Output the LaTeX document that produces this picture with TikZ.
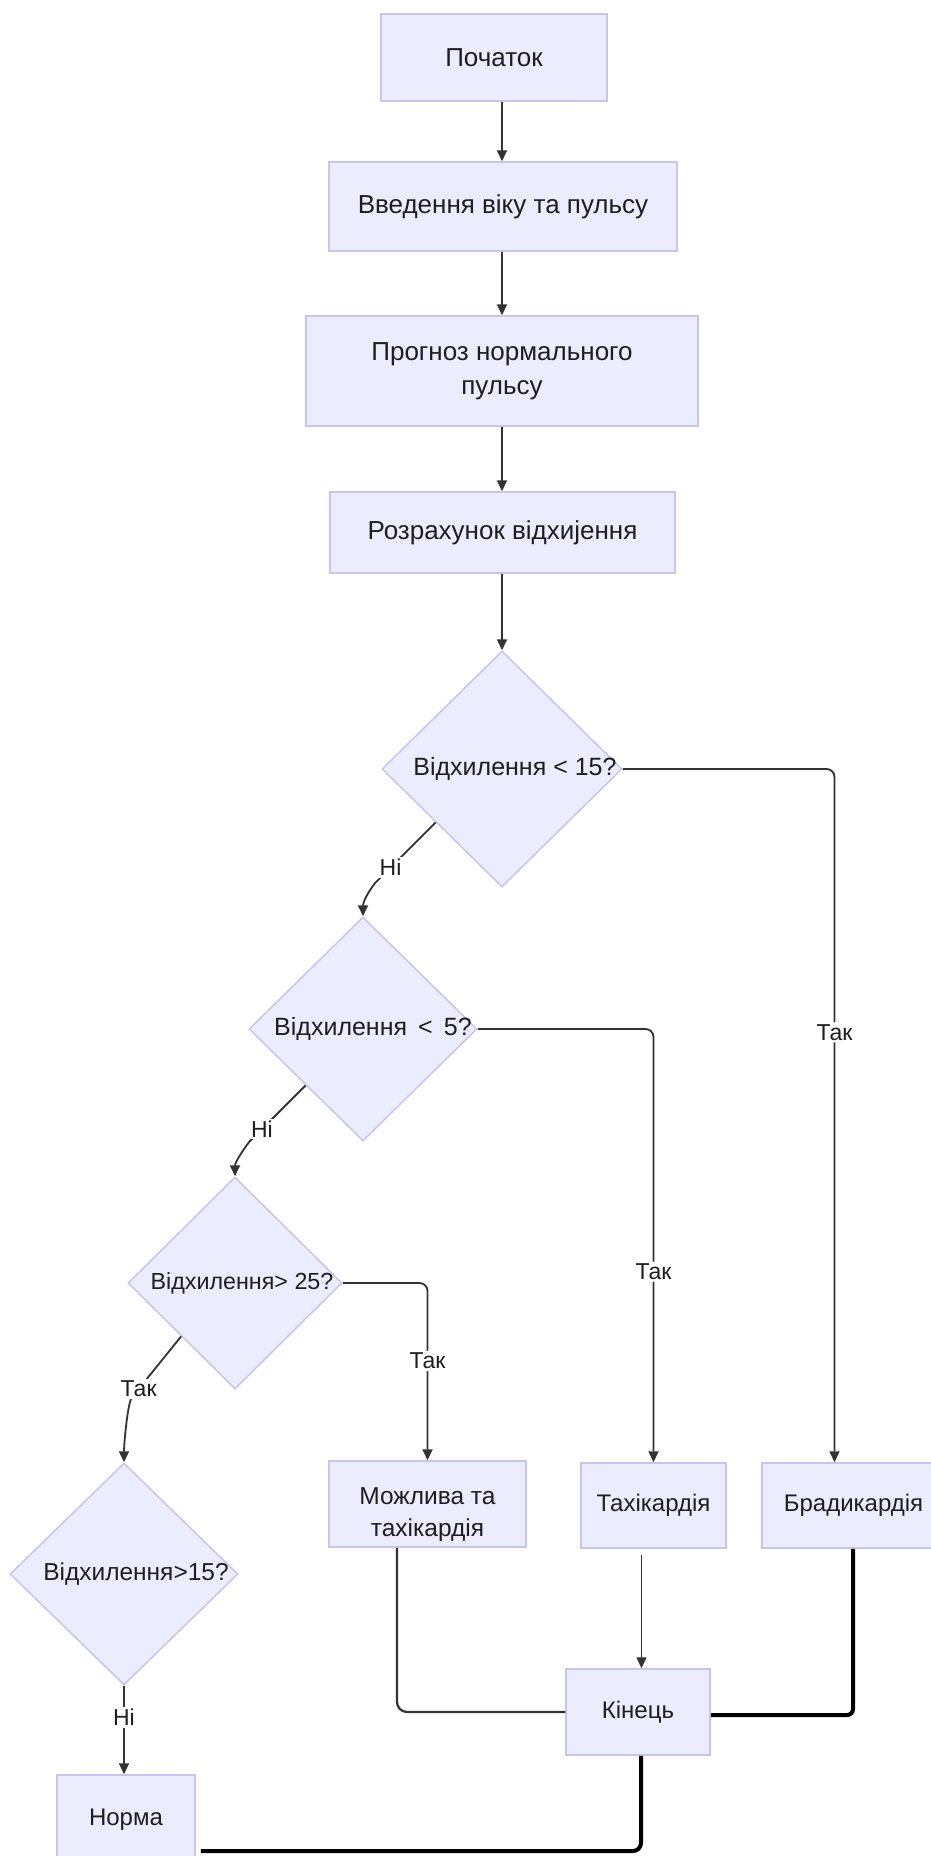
\documentclass[tikz,border=0pt]{standalone}
\usepackage{fontspec}
\setmainfont{Liberation Sans}
\usetikzlibrary{shapes.geometric,arrows.meta,calc}
\definecolor{boxfill}{RGB}{236,236,255}
\definecolor{boxdraw}{RGB}{200,196,240}
\definecolor{ink}{RGB}{51,51,51}
\definecolor{txt}{RGB}{30,30,30}
\begin{document}
\begin{tikzpicture}[x=1pt,y=-1pt,
  box/.style={draw=boxdraw, fill=boxfill, line width=1.5pt, inner sep=0pt, text=txt, font=\fontsize{24}{33}\selectfont, align=center},
  bigbox/.style={box, font=\fontsize{26}{34}\selectfont},
  dec/.style={diamond, draw=boxdraw, fill=boxfill, line width=1.5pt, inner sep=0pt},
  dtext/.style={text=txt, font=\fontsize{25}{30}\selectfont},
  mtext/.style={text=txt, font=\fontsize{24.5}{32}\selectfont, align=center},
  arr/.style={draw=ink, line width=1.8pt, -{Triangle[length=11pt,width=10pt]}},
  thinarr/.style={draw=ink, line width=1.2pt, -{Triangle[length=11pt,width=10pt]}},
  lbl/.style={fill=white, text=txt, font=\fontsize{23}{28}\selectfont, inner sep=2pt},
  link/.style={draw=ink, line width=2.2pt},
  heavy/.style={draw=black, line width=4pt},
]
\useasboundingbox (0,0) rectangle (931,1856);
\fill[white] (0,0) rectangle (931,1856);

% process boxes
\node[bigbox, minimum width=226, minimum height=87] (start) at (494,57.5) {Початок};
\node[bigbox, minimum width=348, minimum height=89] (input) at (503,206.5) {Введення віку та пульсу};
\node[bigbox, minimum width=392, minimum height=110] (prog) at (502,371) {Прогноз нормального\\пульсу};
\node[bigbox, minimum width=345, minimum height=81] (calc) at (502.5,532.5) {Розрахунок відхиjення};

% decisions
\node[dec, minimum width=240, minimum height=236, label={[dtext, xshift=13pt]center:Відхилення < 15?}] (d1) at (502,769) {};
\node[dec, minimum width=228, minimum height=224, label={[dtext, xshift=10pt]center:Відхилення \,<\, 5?}] (d2) at (363,1029) {};
\node[dec, minimum width=214, minimum height=212, label={[dtext, font=\fontsize{23.3}{28}\selectfont, xshift=7pt]center:Відхилення> 25?}] (d3) at (235,1283) {};
\node[dec, minimum width=228, minimum height=222, label={[dtext, font=\fontsize{24.5}{28}\selectfont, xshift=12pt]center:Відхилення>15?}] (d4) at (124,1574) {};

% results
\node[box, minimum width=197, minimum height=86, label={[mtext, yshift=-11pt]center:Можлива та\\тахікардія}] (maybe) at (427.5,1504) {};
\node[box, minimum width=145, minimum height=85] (tachy) at (653.5,1505.5) {Тахікардія};
\node[box, minimum width=183, minimum height=85] (brady) at (853.5,1505.5) {Брадикардія};
\node[box, minimum width=144, minimum height=86] (kin) at (638,1712) {Кінець};
\node[box, minimum width=138, minimum height=90] (norma) at (126,1820) {Норма};

% main flow
\draw[arr] (start.south -| prog.north) -- (input.north -| prog.north);
\draw[arr] (input.south -| prog.north) -- (prog.north);
\draw[arr] (prog.south) -- (calc.north -| prog.south);
\draw[arr] (calc.south -| prog.south) -- (d1.north);

% yes branches
\draw[arr, rounded corners=8pt] (d1.east) -| node[lbl, pos=0.69]{Так} ([xshift=-19pt]brady.north);
\draw[arr, rounded corners=8pt] (d2.east) -| node[lbl, pos=0.78]{Так} (tachy.north);
\draw[arr, rounded corners=8pt] (d3.east) -| node[lbl, pos=0.72]{Так} (maybe.north);

% diagonal branches
\draw[arr] ($(d1.west)!0.45!(d1.south)$) -- node[lbl, pos=0.75]{Ні} ++(-60,60) .. controls +(-8,10) and +(0,-14) .. (d2.north);
\draw[arr] ($(d2.west)!0.5!(d2.south)$) -- node[lbl, pos=0.78]{Ні} ++(-56,56) .. controls +(-7,9) and +(0,-14) .. (d3.north);
\draw[arr] ($(d3.west)!0.5!(d3.south)$) -- node[lbl, pos=0.85]{Так} ++(-50,62) .. controls +(-4,10) and +(0,-18) .. (d4.north);
\draw[arr] (d4.south) -- node[lbl, pos=0.36]{Ні} (d4.south |- norma.north);

% to end
\coordinate (tk) at ([xshift=-12pt]tachy.south);
\draw[thinarr] ([yshift=-6pt]tk) -- (tk |- kin.north);
\draw[link, rounded corners=10pt] ([xshift=-30.5pt]maybe.south) |- (kin.west);
\draw[heavy, rounded corners=6pt] ([xshift=-0.5pt]brady.south) |- ([yshift=-3pt]kin.east);
\draw[heavy, rounded corners=8pt] ([xshift=3pt]kin.south) |- ([yshift=-31pt, xshift=5pt]norma.east);
\end{tikzpicture}
\end{document}
